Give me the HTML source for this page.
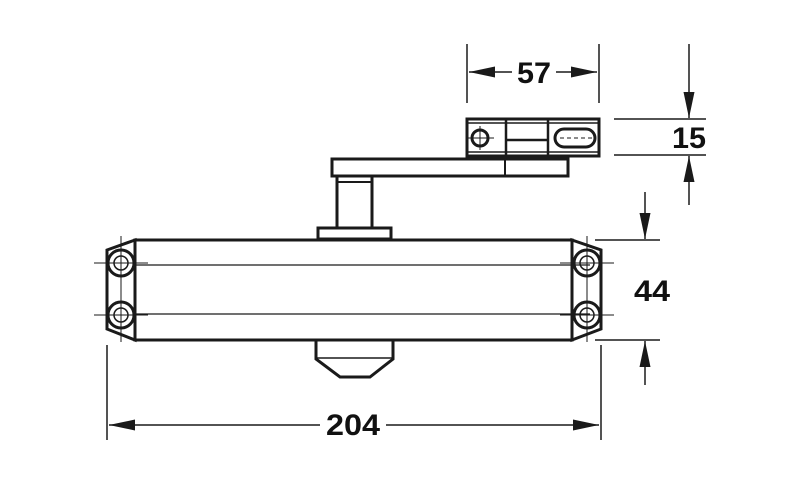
<!DOCTYPE html>
<html><head><style>html,body{margin:0;padding:0;background:#fff}</style></head><body>
<svg width="800" height="498" viewBox="0 0 800 498" xmlns="http://www.w3.org/2000/svg">
<defs>
<marker id="a" viewBox="0 0 26 11" refX="26" refY="5.5" markerWidth="26" markerHeight="11" markerUnits="userSpaceOnUse" orient="auto"><path d="M0,0 L26,5.5 L0,11 z" fill="#1a1a1a"/></marker>
</defs>
<g fill="none" stroke="#1a1a1a">
<rect x="467" y="119" width="132" height="37" stroke-width="3"/>
<line x1="467" y1="123" x2="599" y2="123" stroke-width="1.5"/>
<line x1="467" y1="152" x2="599" y2="152" stroke-width="1.5"/>
<line x1="506" y1="119" x2="506" y2="156" stroke-width="2.5"/>
<line x1="548" y1="119" x2="548" y2="156" stroke-width="2.5"/>
<line x1="506" y1="140" x2="548" y2="140" stroke-width="2.5"/>
<circle cx="480" cy="138" r="8" stroke-width="3"/>
<line x1="468" y1="138" x2="494" y2="138" stroke-width="1"/>
<line x1="480" y1="126" x2="480" y2="150" stroke-width="1"/>
<rect x="555" y="129" width="40" height="18" rx="9" stroke-width="3"/>
<line x1="560" y1="138" x2="592" y2="138" stroke-width="1" stroke-dasharray="4,3"/>
<rect x="332" y="159" width="236" height="17" stroke-width="3"/>
<line x1="505" y1="159" x2="505" y2="176" stroke-width="2"/>
<rect x="337" y="176" width="35" height="52" stroke-width="3"/>
<line x1="337" y1="182" x2="372" y2="182" stroke-width="2"/>
<rect x="318" y="228" width="73" height="11" stroke-width="3"/>
<rect x="135" y="240" width="437" height="100" stroke-width="3"/>
<line x1="135" y1="265" x2="590" y2="265" stroke-width="1.2"/>
<line x1="135" y1="314" x2="590" y2="314" stroke-width="1.2"/>
<polygon points="135,240 107,250 107,329 135,340" stroke-width="3"/>
<polygon points="572,240 601,250 601,329 572,340" stroke-width="3"/>
<g stroke-width="3">
<circle cx="121" cy="263" r="13"/><circle cx="121" cy="315" r="13"/>
<circle cx="587" cy="263" r="13"/><circle cx="587" cy="315" r="13"/>
</g>
<g stroke-width="1.5">
<circle cx="121" cy="263" r="7"/><circle cx="121" cy="315" r="7"/>
<circle cx="587" cy="263" r="7"/><circle cx="587" cy="315" r="7"/>
</g>
<g stroke-width="1">
<line x1="94" y1="263" x2="148" y2="263"/><line x1="94" y1="315" x2="148" y2="315"/>
<line x1="121" y1="236" x2="121" y2="342"/>
<line x1="560" y1="263" x2="614" y2="263"/><line x1="560" y1="315" x2="614" y2="315"/>
<line x1="587" y1="236" x2="587" y2="342"/>
</g>
<polyline points="316,340 316,359 340,377 370,377 393,359 393,340" stroke-width="3"/>
<line x1="316" y1="358" x2="393" y2="358" stroke-width="1.5"/>
<g stroke-width="1.5">
<line x1="467" y1="44" x2="467" y2="103"/><line x1="599" y1="44" x2="599" y2="103"/>
<line x1="512" y1="72" x2="469" y2="72" marker-end="url(#a)"/>
<line x1="556" y1="72" x2="597" y2="72" marker-end="url(#a)"/>
<line x1="614" y1="119" x2="706" y2="119"/><line x1="614" y1="155" x2="706" y2="155"/>
<line x1="689" y1="44" x2="689" y2="118" marker-end="url(#a)"/>
<line x1="689" y1="205" x2="689" y2="156" marker-end="url(#a)"/>
<line x1="595" y1="240" x2="660" y2="240"/><line x1="595" y1="340" x2="660" y2="340"/>
<line x1="645" y1="192" x2="645" y2="239" marker-end="url(#a)"/>
<line x1="645" y1="385" x2="645" y2="341" marker-end="url(#a)"/>
<line x1="107" y1="345" x2="107" y2="440"/><line x1="601" y1="345" x2="601" y2="440"/>
<line x1="320" y1="425" x2="109" y2="425" marker-end="url(#a)"/>
<line x1="386" y1="425" x2="599" y2="425" marker-end="url(#a)"/>
</g>
</g>
<g font-family="Liberation Sans, sans-serif" font-weight="bold" font-size="30" fill="#111" text-anchor="middle">
<text x="534" y="83" textLength="34" lengthAdjust="spacingAndGlyphs">57</text>
<text x="689" y="148" textLength="34" lengthAdjust="spacingAndGlyphs">15</text>
<text x="652" y="301" textLength="36" lengthAdjust="spacingAndGlyphs">44</text>
<text x="353" y="435" textLength="54" lengthAdjust="spacingAndGlyphs">204</text>
</g>
</svg>
</body></html>
